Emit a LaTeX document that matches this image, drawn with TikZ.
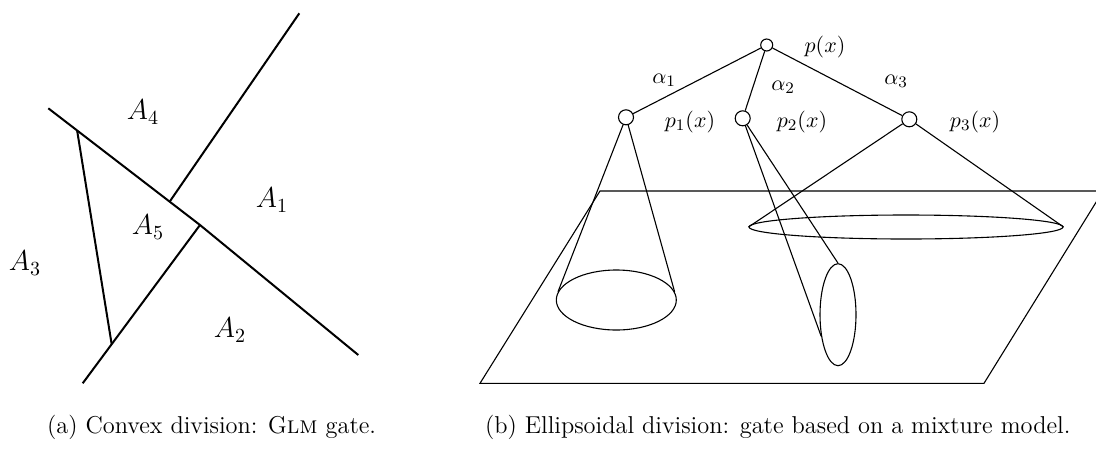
\documentclass[tikz,border=0pt]{standalone}
\usepackage{amsmath}
\usetikzlibrary{positioning, calc, shapes.geometric}

\begin{document}
\begin{tikzpicture}[
    x=0.5pt, y=-0.5pt,
    every node/.style={font=\fontsize{11}{13}\selectfont},
    region/.style={font=\fontsize{14.5}{17}\selectfont},
    unit/.style={circle, draw, line width=0.55pt, inner sep=0pt, minimum size=7.5pt},
    rootunit/.style={unit, minimum size=6pt},
    blob/.style={ellipse, draw, line width=0.55pt, inner sep=0pt},
    border/.style={line width=1pt},
    wire/.style={line width=0.55pt},
    caption/.style={anchor=west, font=\fontsize{12.2}{14}\selectfont}
]
\useasboundingbox (0,0) rectangle (1096,451);
\clip (0,0) rectangle (1096,451);

% -------------------------
% (a) CONVEX DIVISION
% -------------------------
\coordinate (TopL) at (48.3,108.3);
\coordinate (Mid) at (200,225);
\coordinate (BotR) at (358.3,355);
\coordinate (UpEnd) at (299.3,13.3);
\coordinate (LowEnd) at (82.7,383.3);
\coordinate (Cross) at ($(TopL)!0.8!(Mid)$);
\coordinate (TriTop) at ($(TopL)!0.19!(Mid)$);
\coordinate (TriBot) at ($(Mid)!0.753!(LowEnd)$);

\draw[border] (TopL) -- (Mid) -- (BotR);
\draw[border] (Cross) -- (UpEnd);
\draw[border] (Mid) -- (LowEnd);
\draw[border] (TriTop) -- (TriBot);

\node[region] (RegA4) at (143,112) {$A_4$};
\node[region] (RegA1) at (272,200) {$A_1$};
\node[region] (RegA5) at (148,227) {$A_5$};
\node[region] (RegA3) at (25,263) {$A_3$};
\node[region] (RegA2) at (230,330) {$A_2$};

% -------------------------
% (b) ELLIPSOIDAL DIVISION
% -------------------------
\coordinate (PlaneBL) at (480,383.3);
\coordinate (PlaneBR) at (984,383.3);
\coordinate (PlaneTR) at (1103,191);
\coordinate (PlaneTL) at (600,191);
\draw[wire] (PlaneBL) -- (PlaneBR) -- (PlaneTR) -- (PlaneTL) -- cycle;

\node[rootunit] (Root) at (766.7,45) {};
\node[unit] (Comp1) at (626,117.3) {};
\node[unit] (Comp2) at (742.7,118.3) {};
\node[unit] (Comp3) at (909.3,119.3) {};

\node[blob, minimum width=60pt, minimum height=30pt] (Ell1) at (616.3,300) {};
\node[blob, minimum width=18pt, minimum height=51pt] (Ell2) at (838,314.7) {};
\node[blob, minimum width=157pt, minimum height=12pt] (Ell3) at (906,227) {};

% tree
\draw[wire] (Root) -- (Comp1);
\draw[wire] (Root) -- (Comp2);
\draw[wire] (Root) -- (Comp3);

% cones
\draw[wire] (Comp1) -- (Ell1.172);
\draw[wire] (Comp1) -- (Ell1.8);
\draw[wire] (Comp2) -- (Ell2.232);
\draw[wire] (Comp2) -- (Ell2.north);
\draw[wire] (Comp3) -- (Ell3.west);
\draw[wire] (Comp3) -- (Ell3.east);

\node (LabP) at (825,47) {$p(x)$};
\node (LabAlpha1) at (664,80) {$\alpha_1$};
\node (LabAlpha2) at (783,87) {$\alpha_2$};
\node (LabAlpha3) at (896,81) {$\alpha_3$};
\node (LabP1) at (690,121.7) {$p_1(x)$};
\node (LabP2) at (802,121.7) {$p_2(x)$};
\node (LabP3) at (975,122) {$p_3(x)$};

% -------------------------
% CAPTIONS
% -------------------------
\node[caption] (CapA) at (40,427) {(a) Convex division: G\textsc{lm} gate.};
\node[caption] (CapB) at (478,427) {(b) Ellipsoidal division: gate based on a mixture model.};

\end{tikzpicture}
\end{document}
